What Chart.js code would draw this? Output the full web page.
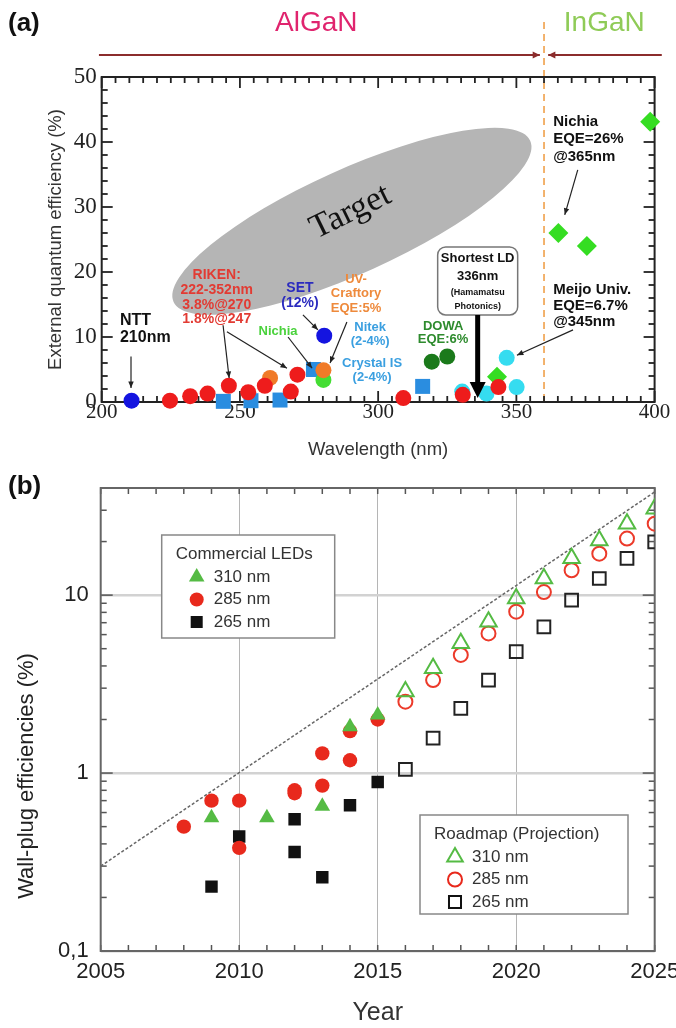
<!DOCTYPE html>
<html>
<head>
<meta charset="utf-8">
<script src="https://cdn.jsdelivr.net/npm/chart.js@4.4.0/dist/chart.umd.min.js"></script>
<style>
  body { margin: 0; background: #fff; width: 676px; height: 1028px; position: relative; overflow: hidden; }
  canvas { position: absolute; left: 0; }
  #chartA { top: 0; width: 676px; height: 470px; }
  #chartB { top: 470px; width: 676px; height: 558px; }
</style>
</head>
<body>
<canvas id="chartA" width="676" height="470"></canvas>
<canvas id="chartB" width="676" height="558"></canvas>
<script>
// ---------- (a) EQE vs wavelength ----------
const wlTicks = [200, 250, 300, 350, 400]
const eqeTicks = [0, 10, 20, 30, 40, 50]

const blueX = [210.8, 280.5]          // NTT, SET
const blueY = [0.2, 10.2]
const redX = [224.7, 232, 238.3, 246, 253, 259, 268.4, 270.8, 309.1, 330.6, 343.5]   // RIKEN
const redY = [0.2, 0.9, 1.3, 2.5, 1.5, 2.5, 1.6, 4.2, 0.6, 1.1, 2.3]
const squareX = [244, 254, 264.5, 276.6, 316.1]   // Nitek / Crystal IS
const squareY = [0.1, 0.2, 0.3, 5.0, 2.4]
const orangeX = [260.9, 280.2]        // UV-Craftory
const orangeY = [3.7, 4.9]
const nichiaX = [280.2]
const nichiaY = [3.4]
const dowaX = [319.4, 325]
const dowaY = [6.2, 7.0]
const cyanX = [330.4, 339.2, 346.5, 350.1]   // Meijo Univ.
const cyanY = [1.6, 1.3, 6.8, 2.3]
const ingaX = [343, 365.2, 375.5, 398.4]     // green diamonds
const ingaY = [3.9, 26, 24, 43.1]

// ---------- (b) wall-plug efficiency vs year ----------
const yearTicks = [2005, 2010, 2015, 2020, 2025]
const wpeTicks = [0.1, 1, 10]
const wpeTickLabels = ['0,1', '1', '10']

const led310Years = [2009, 2011, 2013, 2014, 2015]
const led310Wpe = [0.56, 0.56, 0.65, 1.82, 2.12]
const led285Years = [2008, 2009, 2010, 2010, 2012, 2012, 2013, 2013, 2014, 2014, 2015]
const led285Wpe = [0.5, 0.7, 0.7, 0.38, 0.8, 0.77, 1.29, 0.85, 1.18, 1.72, 2.0]
const led265Years = [2009, 2010, 2012, 2012, 2013, 2014, 2015]
const led265Wpe = [0.23, 0.44, 0.55, 0.36, 0.26, 0.66, 0.89]

const roadYears = [2016, 2017, 2018, 2019, 2020, 2021, 2022, 2023, 2024, 2025]
const road310 = [2.87, 3.88, 5.36, 7.08, 9.58, 12.4, 16.1, 20.3, 25.2, 30.6]
const road285 = [2.52, 3.33, 4.61, 6.09, 8.07, 10.4, 13.8, 17.1, 20.8, 25.2]
const road265 = [1.05, 1.57, 2.31, 3.33, 4.81, 6.64, 9.37, 12.4, 16.1, 19.9]

const trendYears = [2005, 2025]
const trendWpe = [0.3, 38]

const SANS = "'Liberation Sans', Arial, sans-serif"
const SERIF = "'Liberation Serif', 'Times New Roman', serif"

function pts(xs, ys) { return xs.map((x, i) => ({x: x, y: ys[i]})) }

function fixBox(w, h) {
  return s => {
    if (w != null) s.width = w
    if (h != null) s.height = h
    s.paddingLeft = s.paddingRight = s.paddingTop = s.paddingBottom = 0
  }
}

function line(ctx, x1, y1, x2, y2) {
  ctx.beginPath(); ctx.moveTo(x1, y1); ctx.lineTo(x2, y2); ctx.stroke()
}

function arrow(ctx, x1, y1, x2, y2, head, spread) {
  line(ctx, x1, y1, x2, y2)
  const a = Math.atan2(y2 - y1, x2 - x1)
  ctx.beginPath()
  ctx.moveTo(x2, y2)
  ctx.lineTo(x2 - head * Math.cos(a - spread), y2 - head * Math.sin(a - spread))
  ctx.lineTo(x2 - head * Math.cos(a + spread), y2 - head * Math.sin(a + spread))
  ctx.closePath(); ctx.fill()
}

// annotations of panel (a), anchored in data units
const notesA = [
  {lines: ['NTT', '210nm'], x: 206.6, y: 12.6, color: '#111', size: 16, gap: 17, align: 'left'},
  {lines: ['RIKEN:', '222-352nm', '3.8%@270', '1.8%@247'], x: 241.6, y: 19.5, color: '#e23b33', size: 14, gap: 14.7, align: 'center'},
  {lines: ['SET', '(12%)'], x: 271.7, y: 17.5, color: '#2b2bbf', size: 14, gap: 15, align: 'center'},
  {lines: ['UV-', 'Craftory', 'EQE:5%'], x: 292, y: 18.9, color: '#ee8a3c', size: 13, gap: 14.5, align: 'center'},
  {lines: ['Nichia'], x: 263.8, y: 10.9, color: '#4ad23c', size: 13, gap: 14, align: 'center'},
  {lines: ['Nitek', '(2-4%)'], x: 297.1, y: 11.5, color: '#3a9fe0', size: 13, gap: 14, align: 'center'},
  {lines: ['Crystal IS', '(2-4%)'], x: 297.8, y: 6.0, color: '#3a9fe0', size: 13, gap: 14, align: 'center'},
  {lines: ['DOWA', 'EQE:6%'], x: 323.5, y: 11.7, color: '#2e8b2e', size: 13, gap: 13, align: 'center'},
  {lines: ['Nichia', 'EQE=26%', '@365nm'], x: 363.3, y: 43.1, color: '#111', size: 15, gap: 17.5, align: 'left'},
  {lines: ['Meijo Univ.', 'EQE=6.7%', '@345nm'], x: 363.3, y: 17.2, color: '#111', size: 15, gap: 16, align: 'left'}
]
const pointersA = [
  [210.6, 7.0, 210.6, 2.15],
  [243.9, 11.8, 246.1, 3.7],
  [245.3, 10.8, 267, 5.2],
  [272.8, 13.4, 278.2, 11.1],
  [288.7, 12.3, 282.6, 6.0],
  [267.4, 10.0, 276.1, 5.2],
  [372.2, 35.7, 367.5, 28.8],
  [370.5, 11.1, 350.2, 7.2]
]
const target = {x1: 226, y1: 15.4, x2: 355, y2: 40.2, half: 52, textX: 290, textY: 29.2}
const ldBox = {x: 336, top: 23.85, w: 80, h: 68, tip: 0.6}

const panelA = {
  id: 'panelA',
  beforeDatasetsDraw(chart) {
    const {ctx, chartArea: ca, scales: {x, y}} = chart
    ctx.save()
    // target ellipse
    const ax = x.getPixelForValue(target.x1), ay = y.getPixelForValue(target.y1)
    const bx = x.getPixelForValue(target.x2), by = y.getPixelForValue(target.y2)
    ctx.fillStyle = '#b5b5b5'
    ctx.beginPath()
    ctx.ellipse((ax + bx) / 2, (ay + by) / 2, Math.hypot(bx - ax, by - ay) / 2, target.half, Math.atan2(by - ay, bx - ax), 0, 2 * Math.PI)
    ctx.fill()
    ctx.save()
    ctx.translate(x.getPixelForValue(target.textX), y.getPixelForValue(target.textY))
    ctx.rotate(-26 * Math.PI / 180)
    ctx.fillStyle = '#111'
    ctx.font = '34px ' + SERIF
    ctx.textAlign = 'center'; ctx.textBaseline = 'middle'
    ctx.fillText('Target', 0, 0)
    ctx.restore()

    // AlGaN / InGaN divider
    const xd = x.getPixelForValue(360)
    ctx.strokeStyle = '#f0a04a'; ctx.lineWidth = 1.6
    ctx.setLineDash([7, 5])
    line(ctx, xd, 22, xd, ca.bottom)
    ctx.setLineDash([])
    ctx.strokeStyle = ctx.fillStyle = '#8b2c2c'; ctx.lineWidth = 2
    arrow(ctx, x.getPixelForValue(199), 55, x.getPixelForValue(358.5), 55, 8, 0.45)
    arrow(ctx, x.getPixelForValue(402.6), 55, x.getPixelForValue(361.5), 55, 8, 0.45)
    ctx.textAlign = 'center'; ctx.textBaseline = 'middle'
    ctx.font = '28px ' + SANS
    ctx.fillStyle = '#e0246e'
    ctx.fillText('AlGaN', x.getPixelForValue(277.6), 23)
    ctx.fillStyle = '#8fcb57'
    ctx.fillText('InGaN', x.getPixelForValue(381.8), 23)
    ctx.fillStyle = '#111'
    ctx.textAlign = 'left'
    ctx.font = 'bold 26px ' + SANS
    ctx.fillText('(a)', 8, 24)

    // frame and inward ticks
    ctx.strokeStyle = '#222'; ctx.lineWidth = 1.8
    for (let v = 200; v <= 400; v += 5) {
      const px = x.getPixelForValue(v), len = v % 50 == 0 ? 11 : 6
      line(ctx, px, ca.bottom, px, ca.bottom - len)
      line(ctx, px, ca.top, px, ca.top + len)
    }
    for (let v = 0; v <= 50; v += 2) {
      const py = y.getPixelForValue(v), len = v % 10 == 0 ? 11 : 6
      line(ctx, ca.left, py, ca.left + len, py)
      line(ctx, ca.right, py, ca.right - len, py)
    }
    ctx.lineWidth = 2
    ctx.strokeRect(ca.left, ca.top, ca.right - ca.left, ca.bottom - ca.top)
    ctx.restore()
  },
  afterDatasetsDraw(chart) {
    const {ctx, scales: {x, y}} = chart
    ctx.save()
    ctx.textBaseline = 'middle'
    notesA.forEach(n => {
      ctx.fillStyle = n.color
      ctx.textAlign = n.align
      ctx.font = 'bold ' + n.size + 'px ' + SANS
      const px = x.getPixelForValue(n.x), py = y.getPixelForValue(n.y)
      n.lines.forEach((t, i) => ctx.fillText(t, px, py + i * n.gap))
    })
    ctx.strokeStyle = ctx.fillStyle = '#222'; ctx.lineWidth = 1.2
    pointersA.forEach(p => arrow(ctx, x.getPixelForValue(p[0]), y.getPixelForValue(p[1]),
      x.getPixelForValue(p[2]), y.getPixelForValue(p[3]), 7, 0.4))

    // shortest LD box
    const cx = x.getPixelForValue(ldBox.x), top = y.getPixelForValue(ldBox.top)
    ctx.fillStyle = '#fff'; ctx.strokeStyle = '#777'; ctx.lineWidth = 1.5
    ctx.beginPath()
    ctx.roundRect(cx - ldBox.w / 2, top, ldBox.w, ldBox.h, 8)
    ctx.fill(); ctx.stroke()
    ctx.fillStyle = '#111'; ctx.textAlign = 'center'
    ctx.font = 'bold 13px ' + SANS
    ctx.fillText('Shortest LD', cx, top + 11)
    ctx.fillText('336nm', cx, top + 29)
    ctx.font = 'bold 9px ' + SANS
    ctx.fillText('(Hamamatsu', cx, top + 46)
    ctx.fillText('Photonics)', cx, top + 60)
    ctx.strokeStyle = ctx.fillStyle = '#000'; ctx.lineWidth = 5
    const tipY = y.getPixelForValue(ldBox.tip)
    line(ctx, cx, top + ldBox.h, cx, tipY - 14)
    ctx.beginPath()
    ctx.moveTo(cx, tipY); ctx.lineTo(cx - 8, tipY - 16); ctx.lineTo(cx + 8, tipY - 16)
    ctx.closePath(); ctx.fill()
    ctx.restore()
  }
}

function dotSet(xs, ys, color, style, r) {
  return {data: pts(xs, ys), backgroundColor: color, borderColor: color, borderWidth: 0,
    pointStyle: style, pointRadius: r, clip: false}
}

new Chart(document.getElementById('chartA'), {
  type: 'scatter',
  data: {
    datasets: [
      dotSet(redX, redY, '#ee1c1c', 'circle', 8),
      dotSet(blueX, blueY, '#1414e0', 'circle', 8),
      dotSet(ingaX, ingaY, '#35dd22', 'rectRot', 10),
      dotSet(cyanX, cyanY, '#35dcf0', 'circle', 8),
      dotSet(dowaX, dowaY, '#1b7a1b', 'circle', 8),
      dotSet(orangeX, orangeY, '#f07a28', 'circle', 8),
      dotSet(nichiaX, nichiaY, '#44dd33', 'circle', 8),
      dotSet(squareX, squareY, '#2a8de0', 'rect', 10.6)
    ]
  },
  options: {
    responsive: false,
    animation: false,
    events: [],
    layout: {padding: {left: 0, top: 77, right: 21.4, bottom: 0}},
    plugins: {legend: {display: false}, tooltip: {enabled: false}},
    scales: {
      x: {
        type: 'linear', min: 200, max: 400,
        afterBuildTicks: s => { s.ticks = wlTicks.map(v => ({value: v})) },
        afterFit: fixBox(null, 68),
        grid: {display: false, drawTicks: false},
        border: {display: false},
        ticks: {padding: 0, color: '#222', maxRotation: 0, font: {family: SERIF, size: 21, lineHeight: 1}, callback: v => String(v)},
        title: {display: true, text: 'Wavelength (nm)', color: '#333', font: {family: SANS, size: 18.5}, padding: {top: 0, bottom: 9}}
      },
      y: {
        type: 'linear', min: 0, max: 50,
        afterBuildTicks: s => { s.ticks = eqeTicks.map(v => ({value: v})) },
        afterFit: fixBox(101.7, null),
        grid: {display: false, drawTicks: false},
        border: {display: false},
        ticks: {padding: 5, color: '#222', font: {family: SERIF, size: 23}, callback: v => String(v)},
        title: {display: true, text: 'External quantum efficiency (%)', color: '#333', font: {family: SANS, size: 18.5}, padding: {top: 45, bottom: 0}}
      }
    }
  },
  plugins: [panelA]
})

// ---------- panel (b) ----------
const legendsB = [
  {title: 'Commercial LEDs', left: 61, top: 47, w: 173, h: 103, filled: true},
  {title: 'Roadmap (Projection)', left: 319.3, top: 327, w: 208, h: 99, filled: false}
]
const legendItemsB = [
  {label: '310 nm', color: '#55bb44', style: 'triangle', r: 9},
  {label: '285 nm', color: '#e8291c', style: 'circle', r: 7},
  {label: '265 nm', color: '#111', style: 'rect', r: 8.5}
]

const panelB = {
  id: 'panelB',
  beforeDatasetsDraw(chart) {
    const {ctx, chartArea: ca, scales: {x, y}} = chart
    ctx.save()
    ctx.strokeStyle = '#555'; ctx.lineWidth = 1.5
    for (let v = 2005; v <= 2025; v++) {
      const px = x.getPixelForValue(v)
      line(ctx, px, ca.bottom, px, ca.bottom - 6)
      line(ctx, px, ca.top, px, ca.top + 6)
    }
    for (let d = 0.1; d < 50; d *= 10) {
      for (let k = 1; k <= 9; k++) {
        const v = d * k
        if (v > 40) break
        const py = y.getPixelForValue(v), len = k == 1 ? 12 : 6
        line(ctx, ca.left, py, ca.left + len, py)
        line(ctx, ca.right, py, ca.right - len, py)
      }
    }
    ctx.strokeStyle = '#666'; ctx.lineWidth = 2
    ctx.strokeRect(ca.left, ca.top, ca.right - ca.left, ca.bottom - ca.top)
    ctx.restore()
  },
  afterDatasetsDraw(chart) {
    const {ctx, chartArea: ca} = chart
    ctx.save()
    ctx.fillStyle = '#111'
    ctx.textBaseline = 'middle'
    ctx.font = 'bold 26px ' + SANS
    ctx.fillText('(b)', 8, 17)
    ctx.save()
    ctx.translate(27, 306)
    ctx.rotate(-Math.PI / 2)
    ctx.textAlign = 'center'
    ctx.font = '22px ' + SANS
    ctx.fillStyle = '#222'
    ctx.fillText('Wall-plug efficiencies (%)', 0, 0)
    ctx.restore()

    legendsB.forEach(lg => {
      const bx = ca.left + lg.left, by = ca.top + lg.top
      ctx.fillStyle = '#fff'; ctx.strokeStyle = '#888'; ctx.lineWidth = 1.5
      ctx.fillRect(bx, by, lg.w, lg.h)
      ctx.strokeRect(bx, by, lg.w, lg.h)
      ctx.fillStyle = '#333'
      ctx.textAlign = 'left'
      ctx.font = '17px ' + SANS
      ctx.fillText(lg.title, bx + 14, by + 19)
      legendItemsB.forEach((it, i) => {
        const my = by + 42 + i * 22.5
        ctx.fillStyle = lg.filled ? it.color : 'rgba(0,0,0,0)'
        ctx.strokeStyle = it.color
        ctx.lineWidth = 2
        Chart.helpers.drawPoint(ctx, {pointStyle: it.style, radius: it.r, rotation: 0, borderWidth: lg.filled ? 0 : 2}, bx + 35, my)
        ctx.fillStyle = '#333'
        ctx.fillText(it.label, bx + 52, my)
      })
    })
    ctx.restore()
  }
}

function markSet(xs, ys, color, style, r, filled) {
  return {data: pts(xs, ys), pointStyle: style, pointRadius: r,
    backgroundColor: filled ? color : 'rgba(0,0,0,0)', borderColor: color, borderWidth: filled ? 0 : 2}
}

new Chart(document.getElementById('chartB'), {
  type: 'scatter',
  data: {
    datasets: [
      markSet(led310Years, led310Wpe, '#55bb44', 'triangle', 9, true),
      markSet(led285Years, led285Wpe, '#e8291c', 'circle', 7.2, true),
      markSet(led265Years, led265Wpe, '#111', 'rect', 8.8, true),
      markSet(roadYears, road310, '#55bb44', 'triangle', 9.5, false),
      markSet(roadYears, road285, '#ec3a2a', 'circle', 7, false),
      markSet(roadYears, road265, '#222', 'rect', 9, false),
      {type: 'line', data: pts(trendYears, trendWpe), borderColor: '#666', borderWidth: 1.5,
        borderDash: [3, 2], pointRadius: 0, fill: false}
    ]
  },
  options: {
    responsive: false,
    animation: false,
    events: [],
    layout: {padding: {left: 0, top: 18, right: 21.3, bottom: 0}},
    plugins: {legend: {display: false}, tooltip: {enabled: false}},
    scales: {
      x: {
        type: 'linear', min: 2005, max: 2025,
        afterBuildTicks: s => { s.ticks = yearTicks.map(v => ({value: v})) },
        afterFit: fixBox(null, 77),
        grid: {drawTicks: false, lineWidth: 1, color: c => (c.tick && [2010, 2015, 2020].includes(c.tick.value)) ? '#b5b5b5' : 'rgba(0,0,0,0)'},
        border: {display: false},
        ticks: {padding: 10, color: '#222', maxRotation: 0, font: {family: SANS, size: 22, lineHeight: 1}, callback: v => String(v)},
        title: {display: true, text: 'Year', color: '#333', font: {family: SANS, size: 25}, padding: {top: 0, bottom: 0}}
      },
      y: {
        type: 'logarithmic', min: 0.1, max: 40,
        afterBuildTicks: s => { s.ticks = wpeTicks.map(v => ({value: v})) },
        afterFit: fixBox(100.7, null),
        grid: {drawTicks: false, lineWidth: 2.5, color: '#d2d2d2'},
        border: {display: false},
        ticks: {padding: 12, color: '#222', font: {family: SANS, size: 22}, callback: (v, i) => wpeTickLabels[i]}
      }
    }
  },
  plugins: [panelB]
})
</script>
</body>
</html>
